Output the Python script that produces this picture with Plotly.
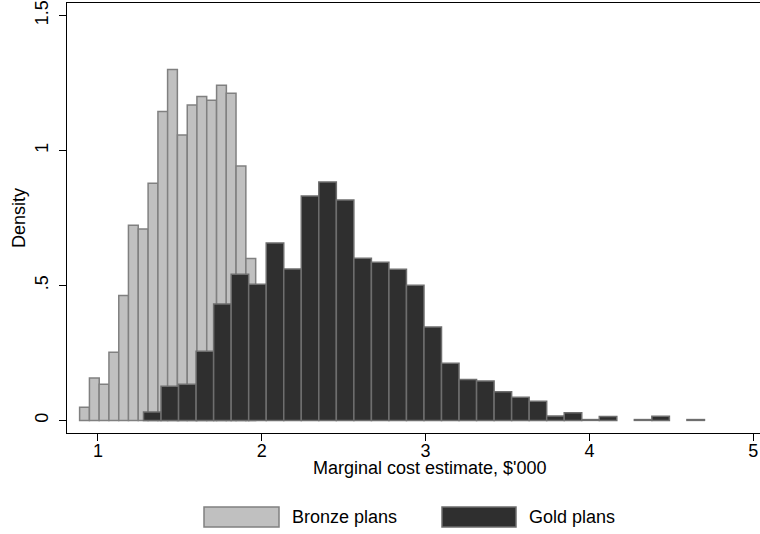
import plotly.graph_objects as go

# ---- Data ----
bronze_left_edges = [0.888, 0.948, 1.007, 1.067, 1.127, 1.186, 1.246, 1.306, 1.366,
                     1.425, 1.485, 1.545, 1.604, 1.664, 1.724, 1.783, 1.843, 1.903]
bronze_bin_width = 0.0597
bronze_density = [0.049, 0.157, 0.134, 0.252, 0.463, 0.723, 0.709, 0.878, 1.144,
                  1.300, 1.057, 1.168, 1.200, 1.186, 1.241, 1.212, 0.942, 0.600]

gold_left_edges = [1.278, 1.385, 1.492, 1.599, 1.706, 1.813, 1.920, 2.027, 2.134,
                   2.241, 2.348, 2.455, 2.562, 2.669, 2.776, 2.883, 2.990, 3.097,
                   3.204, 3.311, 3.418, 3.525, 3.632, 3.739, 3.846, 3.953, 4.060,
                   4.167, 4.274, 4.381, 4.488, 4.595]
gold_bin_width = 0.107
gold_density = [0.031, 0.126, 0.134, 0.256, 0.431, 0.541, 0.504, 0.657, 0.561,
                0.831, 0.883, 0.816, 0.601, 0.586, 0.560, 0.501, 0.346, 0.212,
                0.151, 0.146, 0.106, 0.086, 0.071, 0.016, 0.028, 0.003, 0.014,
                None, 0.003, 0.015, None, 0.003]

x_tick_vals = [1, 2, 3, 4, 5]
x_tick_text = ["1", "2", "3", "4", "5"]
y_tick_vals = [0, 0.5, 1, 1.5]
y_tick_text = ["0", ".5", "1", "1.5"]

series_names = ["Bronze plans", "Gold plans"]
x_title = "Marginal cost estimate, $'000"
y_title = "Density"

# ---- Styles ----
FONT = "Liberation Sans, Arial, sans-serif"
FS = 18
bronze_fill, bronze_line = "rgb(192,192,192)", "rgb(128,128,128)"
gold_fill, gold_line = "rgb(47,47,47)", "rgb(110,110,110)"

fig = go.Figure()
fig.add_trace(go.Bar(
    x=bronze_left_edges, y=bronze_density, width=bronze_bin_width, offset=0,
    name=series_names[0],
    marker=dict(color=bronze_fill, line=dict(color=bronze_line, width=1.5)),
))
fig.add_trace(go.Bar(
    x=gold_left_edges, y=gold_density, width=gold_bin_width, offset=0,
    name=series_names[1],
    marker=dict(color=gold_fill, line=dict(color=gold_line, width=1.5)),
))

# plot area in pixels: left 67, right 760, top 3, bottom 433
L, R, T, B = 67, 760, 3, 433
W, H = 760, 534
pw, ph = R - L, B - T

def px_x(p):
    return (p - L) / pw

def px_y(p):
    return (B - p) / ph

fig.update_layout(
    width=W, height=H,
    margin=dict(l=L, r=W - R, t=T, b=H - B),
    paper_bgcolor="white", plot_bgcolor="white",
    barmode="overlay", showlegend=False,
    font=dict(family=FONT, size=FS, color="black"),
    xaxis=dict(
        range=[0.811, 5.041], tickmode="array", tickvals=x_tick_vals, ticktext=x_tick_text,
        showgrid=False, zeroline=False, showline=True, linecolor="black", linewidth=1.3,
        mirror=True, ticks="outside", ticklen=7, tickwidth=1.3, tickcolor="black",
        tickfont=dict(size=FS), fixedrange=True, ticklabelstandoff=-6,
    ),
    yaxis=dict(
        range=[-0.0467, 1.546], tickmode="array", tickvals=y_tick_vals, ticktext=y_tick_text,
        showgrid=False, zeroline=False, showline=True, linecolor="black", linewidth=1.3,
        ticks="outside", ticklen=7, tickwidth=1.3, tickcolor="black",
        tickangle=-90, tickfont=dict(size=FS), fixedrange=True, ticklabelstandoff=4,
    ),
)

annotations = [
    dict(text=x_title, x=px_x(430), y=px_y(468), xref="paper", yref="paper",
         xanchor="center", yanchor="middle", showarrow=False, font=dict(size=FS)),
    dict(text=y_title, x=px_x(19), y=px_y(218), xref="paper", yref="paper",
         xanchor="center", yanchor="middle", textangle=-90, showarrow=False,
         font=dict(size=FS)),
    dict(text=series_names[0], x=px_x(290), y=px_y(517), xref="paper", yref="paper",
         xanchor="left", yanchor="middle", showarrow=False, font=dict(size=FS)),
    dict(text=series_names[1], x=px_x(527), y=px_y(517), xref="paper", yref="paper",
         xanchor="left", yanchor="middle", showarrow=False, font=dict(size=FS)),
]
fig.update_layout(annotations=annotations)

shapes = [
    dict(type="rect", xref="paper", yref="paper",
         x0=px_x(204), x1=px_x(279), y0=px_y(527), y1=px_y(507),
         fillcolor=bronze_fill, line=dict(color=bronze_line, width=1.5)),
    dict(type="rect", xref="paper", yref="paper",
         x0=px_x(442), x1=px_x(516), y0=px_y(527), y1=px_y(507),
         fillcolor=gold_fill, line=dict(color=gold_line, width=1.5)),
]
fig.update_layout(shapes=shapes)

fig.write_html("out.html")
